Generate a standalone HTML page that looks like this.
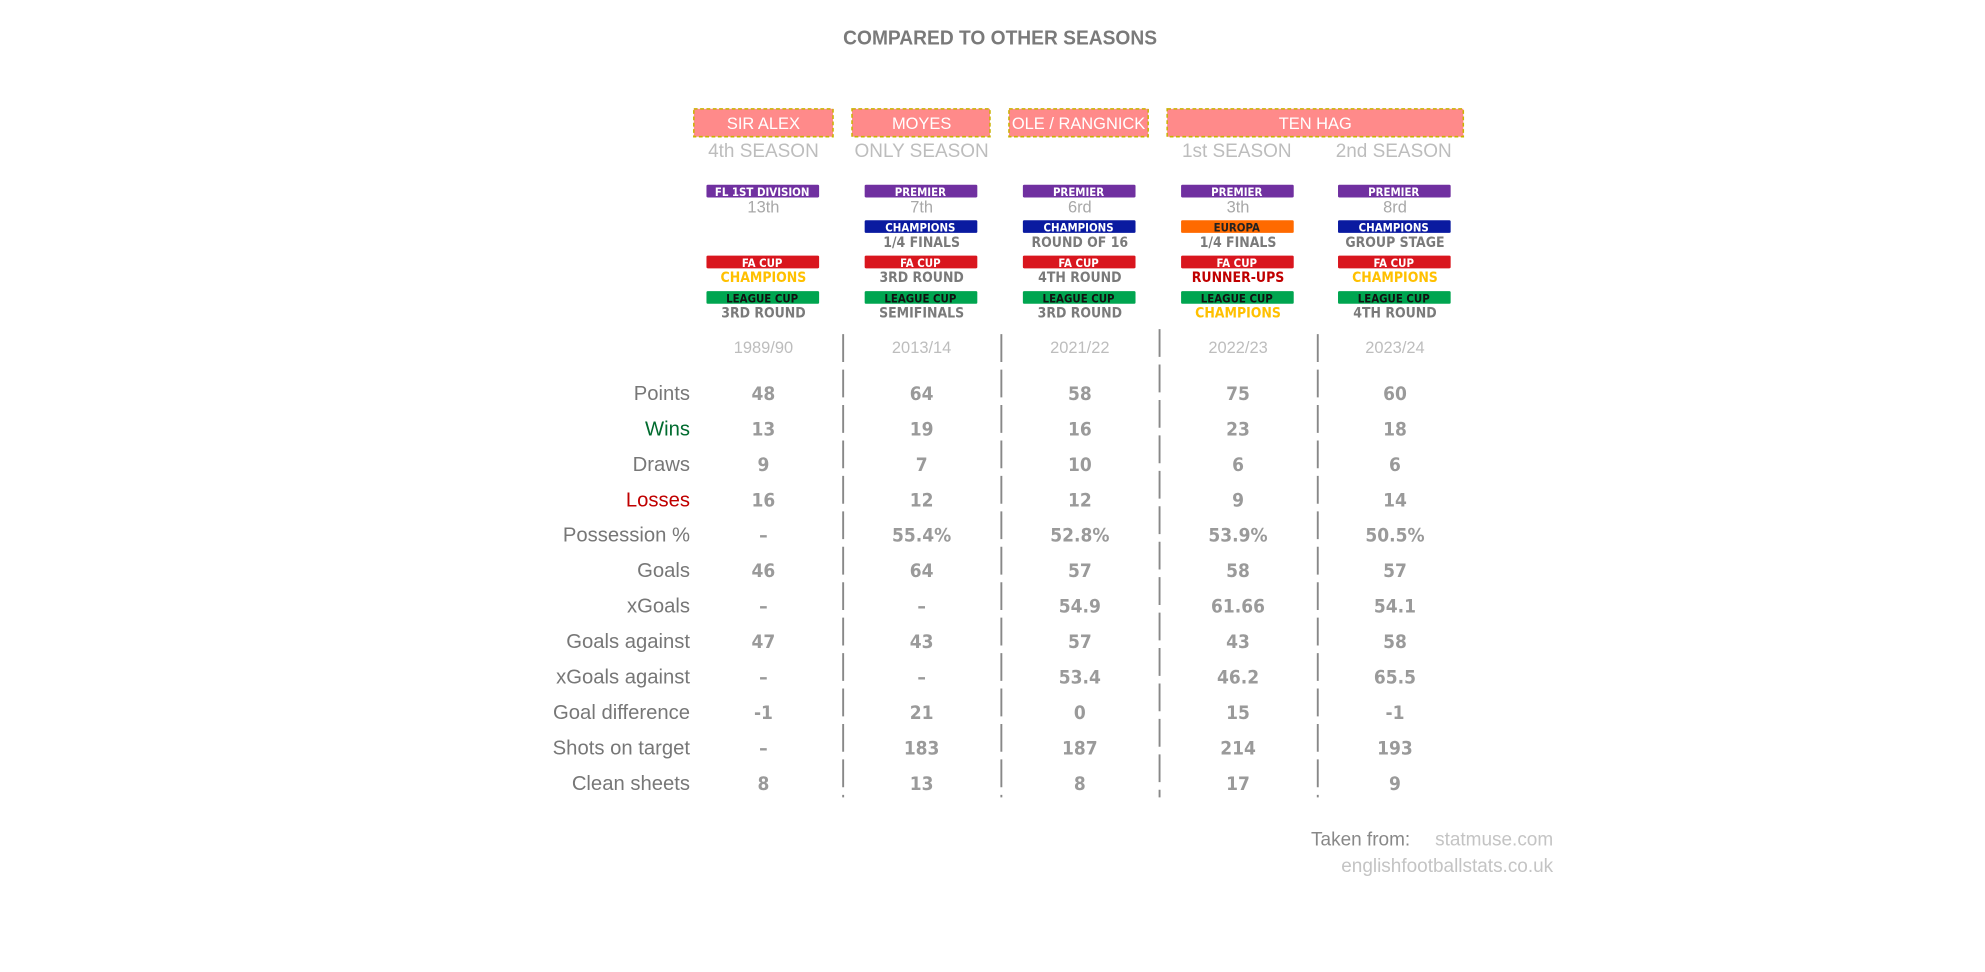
<!DOCTYPE html>
<html><head><meta charset="utf-8"><style>
html,body{margin:0;padding:0;background:#fff;}
svg{display:block;}
.t{font-family:"Liberation Sans",sans-serif;}
.c{font-family:"DejaVu Sans Condensed","Liberation Sans Narrow","Liberation Sans",sans-serif;font-weight:bold;}
</style></head><body>
<svg width="1985" height="972" viewBox="0 0 1568 768" xmlns="http://www.w3.org/2000/svg">
<text x="790" y="35" text-anchor="middle" class="t" font-weight="bold" font-size="16" fill="#7a7a7a" textLength="248" lengthAdjust="spacingAndGlyphs">COMPARED TO OTHER SEASONS</text>

<g stroke="#c9b200" stroke-width="1.2" stroke-dasharray="3 2" fill="#ff8a8a">
<rect x="548" y="86" width="110" height="22"/>
<rect x="673" y="86" width="109" height="22"/>
<rect x="797" y="86" width="110" height="22"/>
<rect x="922" y="86" width="234" height="22"/>
</g>
<g class="t" font-size="13" fill="#fff" text-anchor="middle">
<text x="603" y="102">SIR ALEX</text>
<text x="728" y="102">MOYES</text>
<text x="852" y="102">OLE / RANGNICK</text>
<text x="1039" y="102">TEN HAG</text>
</g>
<g class="t" font-size="15" fill="#bdbdbd" text-anchor="middle">
<text x="603" y="124">4th SEASON</text>
<text x="728" y="124">ONLY SEASON</text>
<text x="977" y="124">1st SEASON</text>
<text x="1101" y="124">2nd SEASON</text>
</g>

<!-- badges -->
<g>
<rect x="558" y="146" width="89" height="10" rx="1" fill="#7030a0"/>
<rect x="683" y="146" width="89" height="10" rx="1" fill="#7030a0"/>
<rect x="808" y="146" width="89" height="10" rx="1" fill="#7030a0"/>
<rect x="933" y="146" width="89" height="10" rx="1" fill="#7030a0"/>
<rect x="1057" y="146" width="89" height="10" rx="1" fill="#7030a0"/>
<rect x="683" y="174" width="89" height="10" rx="1" fill="#0a1aa0"/>
<rect x="808" y="174" width="89" height="10" rx="1" fill="#0a1aa0"/>
<rect x="933" y="174" width="89" height="10" rx="1" fill="#ff6a00"/>
<rect x="1057" y="174" width="89" height="10" rx="1" fill="#0a1aa0"/>
<rect x="558" y="202" width="89" height="10" rx="1" fill="#d9161e"/>
<rect x="683" y="202" width="89" height="10" rx="1" fill="#d9161e"/>
<rect x="808" y="202" width="89" height="10" rx="1" fill="#d9161e"/>
<rect x="933" y="202" width="89" height="10" rx="1" fill="#d9161e"/>
<rect x="1057" y="202" width="89" height="10" rx="1" fill="#d9161e"/>
<rect x="558" y="230" width="89" height="10" rx="1" fill="#00a550"/>
<rect x="683" y="230" width="89" height="10" rx="1" fill="#00a550"/>
<rect x="808" y="230" width="89" height="10" rx="1" fill="#00a550"/>
<rect x="933" y="230" width="89" height="10" rx="1" fill="#00a550"/>
<rect x="1057" y="230" width="89" height="10" rx="1" fill="#00a550"/>
</g>
<g class="c" font-size="9" text-anchor="middle" fill="#fff">
<text x="602" y="155">FL 1ST DIVISION</text>
<text x="727" y="155">PREMIER</text><text x="852" y="155">PREMIER</text><text x="977" y="155">PREMIER</text><text x="1101" y="155">PREMIER</text>
<text x="727" y="183">CHAMPIONS</text><text x="852" y="183">CHAMPIONS</text><text x="977" y="183" fill="#222">EUROPA</text><text x="1101" y="183">CHAMPIONS</text>
<text x="602" y="211">FA CUP</text><text x="727" y="211">FA CUP</text><text x="852" y="211">FA CUP</text><text x="977" y="211">FA CUP</text><text x="1101" y="211">FA CUP</text>
<g fill="#111"><text x="602" y="239">LEAGUE CUP</text><text x="727" y="239">LEAGUE CUP</text><text x="852" y="239">LEAGUE CUP</text><text x="977" y="239">LEAGUE CUP</text><text x="1101" y="239">LEAGUE CUP</text></g>
</g>
<g class="t" font-size="13" fill="#a8a8a8" text-anchor="middle">
<text x="603" y="168">13th</text><text x="728" y="168">7th</text><text x="853" y="168">6rd</text><text x="978" y="168">3th</text><text x="1102" y="168">8rd</text>
</g>
<g class="c" font-size="11" text-anchor="middle" fill="#7a7a7a">
<text x="728" y="195">1/4 FINALS</text><text x="853" y="195">ROUND OF 16</text><text x="978" y="195">1/4 FINALS</text><text x="1102" y="195">GROUP STAGE</text>
<text x="603" y="223" fill="#ffc000">CHAMPIONS</text><text x="728" y="223">3RD ROUND</text><text x="853" y="223">4TH ROUND</text><text x="978" y="223" fill="#c00000">RUNNER-UPS</text><text x="1102" y="223" fill="#ffc000">CHAMPIONS</text>
<text x="603" y="251">3RD ROUND</text><text x="728" y="251">SEMIFINALS</text><text x="853" y="251">3RD ROUND</text><text x="978" y="251" fill="#ffc000">CHAMPIONS</text><text x="1102" y="251">4TH ROUND</text>
</g>
<g class="t" font-size="13" fill="#bdbdbd" text-anchor="middle">
<text x="603" y="279">1989/90</text><text x="728" y="279">2013/14</text><text x="853" y="279">2021/22</text><text x="978" y="279">2022/23</text><text x="1102" y="279">2023/24</text>
</g>

<g stroke="#888" stroke-width="1.5" stroke-dasharray="22 6" stroke-dashoffset="-2">
<line x1="666" y1="262" x2="666" y2="630"/>
<line x1="791" y1="262" x2="791" y2="630"/>
<line x1="916" y1="258" x2="916" y2="630"/>
<line x1="1041" y1="262" x2="1041" y2="630"/>
</g>

<g class="t" font-size="16" fill="#777" text-anchor="end">
<text x="545" y="316">Points</text>
<text x="545" y="344" fill="#006b2e">Wins</text>
<text x="545" y="372">Draws</text>
<text x="545" y="400" fill="#c00000">Losses</text>
<text x="545" y="428">Possession %</text>
<text x="545" y="456">Goals</text>
<text x="545" y="484">xGoals</text>
<text x="545" y="512">Goals against</text>
<text x="545" y="540">xGoals against</text>
<text x="545" y="568">Goal difference</text>
<text x="545" y="596">Shots on target</text>
<text x="545" y="624">Clean sheets</text>
</g>
<g class="c" font-size="15" fill="#9a9a9a" text-anchor="middle">
<text x="603" y="316">48</text><text x="728" y="316">64</text><text x="853" y="316">58</text><text x="978" y="316">75</text><text x="1102" y="316">60</text>
<text x="603" y="344">13</text><text x="728" y="344">19</text><text x="853" y="344">16</text><text x="978" y="344">23</text><text x="1102" y="344">18</text>
<text x="603" y="372">9</text><text x="728" y="372">7</text><text x="853" y="372">10</text><text x="978" y="372">6</text><text x="1102" y="372">6</text>
<text x="603" y="400">16</text><text x="728" y="400">12</text><text x="853" y="400">12</text><text x="978" y="400">9</text><text x="1102" y="400">14</text>
<text x="603" y="428">–</text><text x="728" y="428">55.4%</text><text x="853" y="428">52.8%</text><text x="978" y="428">53.9%</text><text x="1102" y="428">50.5%</text>
<text x="603" y="456">46</text><text x="728" y="456">64</text><text x="853" y="456">57</text><text x="978" y="456">58</text><text x="1102" y="456">57</text>
<text x="603" y="484">–</text><text x="728" y="484">–</text><text x="853" y="484">54.9</text><text x="978" y="484">61.66</text><text x="1102" y="484">54.1</text>
<text x="603" y="512">47</text><text x="728" y="512">43</text><text x="853" y="512">57</text><text x="978" y="512">43</text><text x="1102" y="512">58</text>
<text x="603" y="540">–</text><text x="728" y="540">–</text><text x="853" y="540">53.4</text><text x="978" y="540">46.2</text><text x="1102" y="540">65.5</text>
<text x="603" y="568">-1</text><text x="728" y="568">21</text><text x="853" y="568">0</text><text x="978" y="568">15</text><text x="1102" y="568">-1</text>
<text x="603" y="596">–</text><text x="728" y="596">183</text><text x="853" y="596">187</text><text x="978" y="596">214</text><text x="1102" y="596">193</text>
<text x="603" y="624">8</text><text x="728" y="624">13</text><text x="853" y="624">8</text><text x="978" y="624">17</text><text x="1102" y="624">9</text>
</g>

<g class="t" font-size="15" text-anchor="end">
<text x="1114" y="668" fill="#888">Taken from:</text>
<text x="1227" y="668" fill="#c4c4c4">statmuse.com</text>
<text x="1227" y="689" fill="#c4c4c4">englishfootballstats.co.uk</text>
</g>
</svg>
</body></html>
